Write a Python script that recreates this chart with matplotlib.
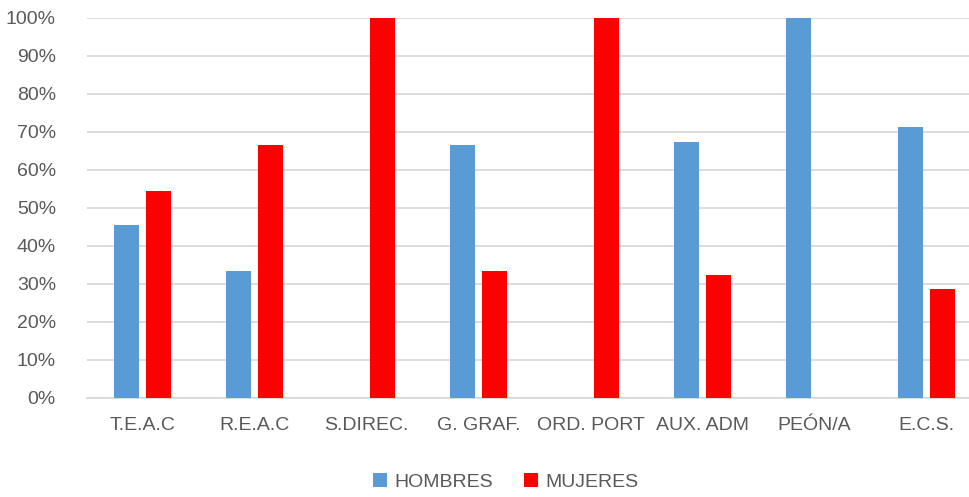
import numpy as np
import matplotlib.pyplot as plt
from matplotlib.ticker import PercentFormatter

puestos = ['T.E.A.C', 'R.E.A.C', 'S.DIREC.', 'G. GRAF.', 'ORD. PORT', 'AUX. ADM', 'PEÓN/A', 'E.C.S.']
hombres = [45.45, 33.33, 0, 66.67, 0, 67.5, 100, 71.43]
mujeres = [54.55, 66.67, 100, 33.33, 100, 32.5, 0, 28.57]

plt.rcParams['font.family'] = ['Liberation Sans', 'DejaVu Sans']
gris = '#595959'

fig = plt.figure(figsize=(9.69, 4.97), dpi=100)
# el area de la grafica se sale un poco por la derecha (como en el original)
ax = fig.add_axes([86.5/969, 1-398/497, 896/969, 380/497])

x = np.arange(len(puestos))
ancho = 0.223
sep = 0.143
ax.bar(x - sep, hombres, ancho, color='#5b9bd5', label='HOMBRES', zorder=3)
ax.bar(x + sep, mujeres, ancho, color='#ff0000', label='MUJERES', zorder=3)

ax.set_xlim(-0.5, len(puestos) - 0.5)
ax.set_ylim(0, 100)
ax.set_yticks(np.arange(0, 101, 10))
ax.yaxis.set_major_formatter(PercentFormatter(decimals=0))
ax.set_xticks(x)
ax.set_xticklabels(puestos)
ax.grid(axis='y', color='#d9d9d9', linewidth=1.3, zorder=0)
for s in ['top', 'right', 'left']:
    ax.spines[s].set_visible(False)
ax.spines['bottom'].set_color('#d9d9d9')
ax.spines['bottom'].set_linewidth(1.3)
ax.tick_params(axis='both', length=0, colors=gris, labelsize=14)
ax.tick_params(axis='x', pad=14)
ax.tick_params(axis='y', pad=22)

leg = fig.legend(loc='center', bbox_to_anchor=(506/969, 1-482/497), ncol=2, frameon=False,
                 fontsize=14, handlelength=0.7, handleheight=0.7, handletextpad=0.4,
                 columnspacing=1.6)
for t in leg.get_texts():
    t.set_color(gris)

fig.savefig('out.png', dpi=100)
